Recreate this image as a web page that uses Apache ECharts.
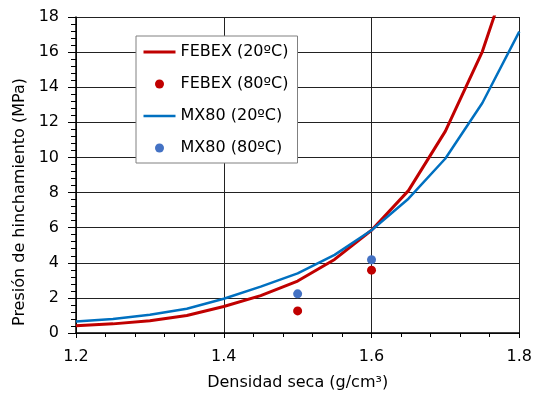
<!DOCTYPE html>
<html>
<head>
<meta charset="utf-8">
<script src="https://cdn.jsdelivr.net/npm/echarts@6/dist/echarts.min.js"></script>
<style>html,body{margin:0;padding:0;background:#fff}#c{width:535px;height:396px}</style>
</head>
<body>
<div id="c"></div>
<script>
const densidad = [1.2,1.25,1.3,1.35,1.4,1.45,1.5,1.55,1.6,1.65,1.7,1.75,1.8];
const febex20 = [0.41,0.52,0.70,1.0,1.51,2.13,2.96,4.19,5.85,8.11,11.5,16.03,22.3];
const mx80_20 = [0.66,0.80,1.04,1.38,1.95,2.64,3.40,4.45,5.85,7.65,9.94,13.1,17.17];
const densidad80 = [1.5,1.6];
const febex80 = [1.26,3.58];
const mx80_80 = [2.23,4.17];
const seriesNames = ['FEBEX (20ºC)','FEBEX (80ºC)','MX80 (20ºC)','MX80 (80ºC)'];
const xTitle = 'Densidad seca (g/cm³)';
const yTitle = 'Presión de hinchamiento (MPa)';

const pair = (xs, ys) => xs.map((x,i)=>[x, ys[i]]);
const F = 'DejaVu Sans';
const chart = echarts.init(document.getElementById('c'), null, {renderer:'canvas'});
chart.setOption({
  animation:false,
  backgroundColor:'#fff',
  textStyle:{fontFamily:F},
  grid:{left:76,right:14,top:17,bottom:61,containLabel:false},
  legend:{
    left:136, top:36, orient:'vertical',
    backgroundColor:'#fff', borderColor:'#808080', borderWidth:1,
    padding:[7,9,6,6], itemWidth:32, itemHeight:9, itemGap:14, itemTextGap:3,
    textStyle:{fontFamily:F, fontSize:16, color:'#000', lineHeight:18},
    data:[
      {name:seriesNames[0], itemStyle:{opacity:0}, lineStyle:{width:3, color:'#C00000'}},
      {name:seriesNames[1], itemStyle:{opacity:1}},
      {name:seriesNames[2], itemStyle:{opacity:0}, lineStyle:{width:2.5, color:'#0070C0'}},
      {name:seriesNames[3], itemStyle:{opacity:1}}
    ]
  },
  xAxis:{
    type:'value', min:1.2, max:1.8, interval:0.2,
    name:xTitle, nameLocation:'middle', nameGap:42,
    nameTextStyle:{fontFamily:F, fontSize:16, color:'#000'},
    axisLine:{lineStyle:{color:'#000', width:1.5}},
    axisTick:{show:true, inside:false, length:5, lineStyle:{color:'#000'}},
    minorTick:{show:true, splitNumber:5, length:4, lineStyle:{color:'#000'}},
    axisLabel:{fontFamily:F, fontSize:16, color:'#000', margin:16, formatter:v=>v.toFixed(1)},
    splitLine:{show:true, lineStyle:{color:'#222', width:1}}
  },
  yAxis:{
    type:'value', min:0, max:18, interval:2,
    name:yTitle, nameLocation:'middle', nameGap:47,
    nameTextStyle:{fontFamily:F, fontSize:16, color:'#000', padding:[0,54,0,0]},
    axisLine:{show:true, lineStyle:{color:'#000', width:1.5}},
    axisTick:{show:true, inside:false, length:8, lineStyle:{color:'#000'}},
    minorTick:{show:true, splitNumber:5, length:5, lineStyle:{color:'#000'}},
    axisLabel:{fontFamily:F, fontSize:16, color:'#000', margin:17},
    splitLine:{show:true, lineStyle:{color:'#222', width:1}}
  },
  series:[
    {name:seriesNames[0], type:'line', data:pair(densidad, febex20), symbol:'none', smooth:false,
     lineStyle:{color:'#C00000', width:3}, itemStyle:{color:'#C00000'}, clip:true, z:3},
    {name:seriesNames[1], type:'scatter', data:pair(densidad80, febex80), symbol:'circle', symbolSize:9,
     itemStyle:{color:'#C00000', opacity:1}, z:4},
    {name:seriesNames[2], type:'line', data:pair(densidad, mx80_20), symbol:'none', smooth:false,
     lineStyle:{color:'#0070C0', width:2.5}, itemStyle:{color:'#0070C0'}, clip:true, z:3},
    {name:seriesNames[3], type:'scatter', data:pair(densidad80, mx80_80), symbol:'circle', symbolSize:9,
     itemStyle:{color:'#4472C4', opacity:1}, z:4}
  ]
});
</script>
</body>
</html>
